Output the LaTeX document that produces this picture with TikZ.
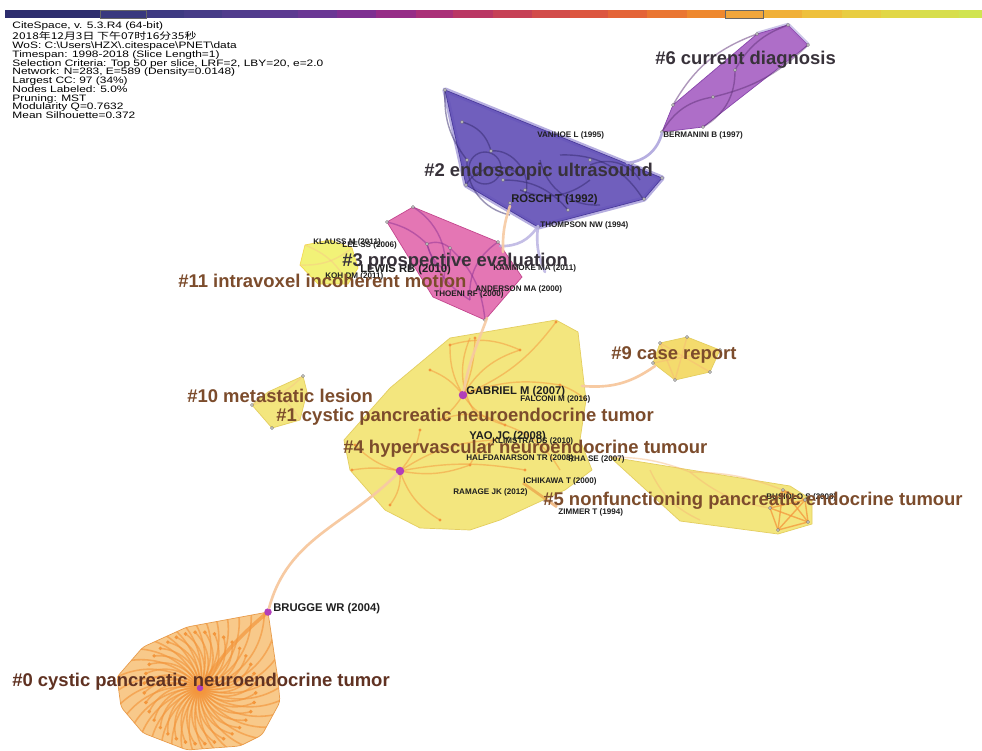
\documentclass[tikz,border=0pt]{standalone}
\usepackage{fontspec}
\setmainfont{Liberation Sans}
\newfontfamily\cjk{Noto Sans CJK SC}
\usetikzlibrary{positioning,calc}
\definecolor{clusterindigo}{RGB}{100,82,184}
\definecolor{indigodraw}{RGB}{74,58,156}
\definecolor{clusterviolet}{RGB}{168,98,196}
\definecolor{violetdraw}{RGB}{136,70,172}
\definecolor{clusterpink}{RGB}{226,104,172}
\definecolor{pinkdraw}{RGB}{196,70,142}
\definecolor{clusteryellow}{RGB}{242,226,104}
\definecolor{yellowdraw}{RGB}{228,206,96}
\definecolor{clusterlime}{RGB}{240,240,96}
\definecolor{clusterorange}{RGB}{247,192,118}
\definecolor{orangedraw}{RGB}{232,156,76}
\definecolor{spokeorange}{RGB}{243,150,60}
\definecolor{linkpeach}{RGB}{247,202,162}
\definecolor{linklavender}{RGB}{182,174,224}
\definecolor{hubmagenta}{RGB}{178,62,186}
\definecolor{labelbrown}{RGB}{124,76,44}
\definecolor{labelrust}{RGB}{96,50,34}
\definecolor{labeldark}{RGB}{56,50,58}
\colorlet{citetext}{black!88}
\colorlet{dotdark}{black!55}

\begin{document}
\begin{tikzpicture}[x=0.2mm,y=-0.2mm,every node/.style={inner sep=0pt},
    clulab/.style={anchor=west,font=\fontsize{10.5}{12}\selectfont\bfseries,text=labelbrown},
    darklab/.style={clulab,text=labeldark},
    citelab/.style={anchor=west,font=\fontsize{4.6}{5}\selectfont\bfseries,text=citetext},
    hublab/.style={citelab,font=\fontsize{6.4}{7}\selectfont\bfseries},
    hub/.style={circle,fill=hubmagenta,minimum size=1.7mm},
    link/.style={line width=1.5pt,line cap=round},
    edge/.style={line width=.8pt,opacity=.5},
    spoke/.style={spokeorange,line width=.9pt,opacity=.65}]
    \useasboundingbox (0,0) rectangle (982,751);
    \fill[white] (0,0) rectangle (982,751);
    \foreach \xa/\xb/\cR/\cG/\cB in {5/100/45/45/110,100/146/56/56/126,146/184/62/58/130,184/222/70/60/135,222/260/80/60/140,260/298/92/58/145,298/337/106/55/148,337/376/126/48/145,376/416/150/45/135,416/453/170/48/120,453/493/186/55/100,493/532/198/65/86,532/570/210/76/74,570/608/220/86/64,608/647/228/100/56,647/687/234/118/50,687/725/238/136/46,725/763/240/166/60,763/802/240/176/56,802/842/238/192/60,842/881/232/205/66,881/920/225/215/70,920/959/215/222/76,959/982/208/228/80}{\definecolor{barcol}{RGB}{\cR,\cG,\cB}\fill[barcol] (\xa,10) rectangle (\xb,18);}
    \draw[black!60,line width=.5pt] (100,10) rectangle (146,18);
    \draw[black!60,line width=.5pt] (725,10) rectangle (763,18);
    \node[anchor=north west,align=left,font=\fontsize{5.3}{5}\selectfont,text=black,xscale=1.28,transform shape] (info) at (12,21) {CiteSpace, v. 5.3.R4 (64-bit)\\{\cjk 2018年12月3日 下午07时16分35秒}\\WoS: C:\textbackslash Users\textbackslash HZX\textbackslash .citespace\textbackslash PNET\textbackslash data\\Timespan: 1998-2018 (Slice Length=1)\\Selection Criteria: Top 50 per slice, LRF=2, LBY=20, e=2.0\\Network: N=283, E=589 (Density=0.0148)\\Largest CC: 97 (34\%)\\Nodes Labeled: 5.0\%\\Pruning: MST\\Modularity Q=0.7632\\Mean Silhouette=0.372};
    \coordinate (gab) at (463,395); \coordinate (hubfour) at (400,471); \coordinate (bru) at (268,612); \coordinate (hubzero) at (200,688);
    \draw[linklavender,line width=3pt,line join=round] (445,90)--(662,178)--(644,199)--(538,227)--(466,185)--cycle;
    \filldraw[fill=clusterindigo,draw=indigodraw,fill opacity=.92,line join=round] (445,90)--(662,178)--(644,199)--(538,227)--(466,185)--cycle;
    \draw[linklavender!70,line width=2.5pt,line join=round] (757,34)--(788,25)--(808,45);
    \filldraw[fill=clusterviolet,draw=violetdraw,fill opacity=.92,line join=round] (757,34)--(788,25)--(808,45)--(703,127)--(662,132)--(673,105)--cycle;
    \filldraw[fill=clusterlime,draw=clusterlime!80!orange,fill opacity=.85,line join=round] (305,245)--(330,240)--(352,248)--(358,268)--(348,284)--(318,284)--(300,265)--cycle;
    \filldraw[fill=clusterpink,draw=pinkdraw,fill opacity=.9,line join=round] (387,222)--(413,207)--(498,242)--(522,277)--(485,320)--(433,297)--cycle;
    \filldraw[fill=clusteryellow,draw=yellowdraw,fill opacity=.85,line join=round] (450,338)--(556,320)--(578,332)--(586,400)--(580,440)--(592,470)--(565,490)--(500,520)--(470,530)--(420,528)--(385,510)--(350,470)--(344,440)--(390,388)--cycle;
    \filldraw[fill=clusteryellow,draw=yellowdraw,fill opacity=.85,line join=round] (610,457)--(790,486)--(812,500)--(812,524)--(778,534)--(680,521)--cycle;
    \filldraw[fill=clusteryellow!90!orange,draw=yellowdraw,fill opacity=.9,line join=round] (660,343)--(687,337)--(720,350)--(710,372)--(675,380)--(653,363)--cycle;
    \filldraw[fill=clusteryellow,draw=yellowdraw,fill opacity=.85,line join=round] (303,376)--(307,392)--(300,420)--(272,428)--(252,405)--(268,392)--cycle;
    \filldraw[fill=clusterorange,draw=orangedraw,fill opacity=.85,rounded corners=2pt] (268,612)--(278,680)--(280,702)--(262,735)--(240,746)--(187,750)--(143,733)--(121,707)--(117,677)--(143,647)--(187,627)--cycle;
    \begin{scope}
      \clip (268,612)--(278,680)--(280,702)--(262,735)--(240,746)--(187,750)--(143,733)--(121,707)--(117,677)--(143,647)--(187,627)--cycle;
      \foreach \a in {0,10,...,350}{\draw[spoke] (hubzero) to[bend right=40] ++(\a:100); \draw[spoke] (hubzero) to[bend right=40] ++(\a+5:56); \fill[spokeorange] (hubzero) ++(\a+5:56) circle (1.1pt);}
      \draw[spokeorange,line width=2pt,opacity=.7] (hubzero) to[bend left=8] (bru);
    \end{scope}
    \foreach \xa/\ya/\xb/\yb/\bend in {462/122/491/151/30,467/160/510/215/-40,466/185/520/175/50,491/151/525/195/60,540/160/600/205/-40,560/155/643/199/30,520/190/590/180/-30,590/165/640/180/40,503/180/568/210/25,445/90/467/160/-20}{\draw[edge,indigodraw!70!black] (\xa,\ya) to[bend left=\bend] (\xb,\yb);}
    \draw[edge,indigodraw!70!black] (485,168) circle (16);
    \foreach \xa/\ya/\xb/\yb/\bend in {673/105/757/34/20,703/127/735/70/-30,735/70/788/25/20,662/132/713/97/25,713/97/808/45/-15}{\draw[edge,violetdraw!70!black] (\xa,\ya) to[bend left=\bend] (\xb,\yb);}
    \foreach \xa/\ya/\xb/\yb/\bend in {427/244/450/248/30,427/244/470/300/-20,450/248/485/320/20,413/207/440/290/40,498/242/470/300/-30,445/270/427/244/20,445/270/450/248/-20,387/222/427/244/15}{\draw[edge,hubmagenta!80!black] (\xa,\ya) to[bend left=\bend] (\xb,\yb);}
    \foreach \xb/\yb/\bend in {450/345/15,475/338/-10,520/350/20,556/322/-15,440/420/10,505/425/-20,560/385/15,430/370/-15}{\draw[edge,spokeorange] (gab) to[bend left=\bend] (\xb,\yb); \fill[spokeorange] (\xb,\yb) circle (.9pt);}
    \foreach \xb/\yb/\bend in {355/445/15,352/470/-10,390/505/20,470/465/-15,525/470/10,440/520/-20,495/440/15,420/430/-15}{\draw[edge,spokeorange] (hubfour) to[bend left=\bend] (\xb,\yb); \fill[spokeorange] (\xb,\yb) circle (.9pt);}
    \foreach \xa/\ya/\xb/\yb/\bend in {450/345/520/350/20,470/338/480/420/-30,505/425/560/470/20,440/420/505/425/25,495/440/470/465/-20,560/385/586/400/10}{\draw[edge,spokeorange] (\xa,\ya) to[bend left=\bend] (\xb,\yb);}
    \draw[spokeorange!80!brown,line width=1.6pt,opacity=.6] (523,483)--(557,507);
    \foreach \xa/\ya/\xb/\yb in {783/490/805/500,805/500/808/522,808/522/778/530,778/530/770/508,770/508/783/490,783/490/808/522,805/500/778/530,808/522/770/508,778/530/783/490,770/508/805/500}{\draw[edge,spokeorange,opacity=.75] (\xa,\ya)--(\xb,\yb);}
    \foreach \xa/\ya/\xb/\yb/\bend in {610/457/690/472/10,690/472/783/490/10,650/470/700/520/-20,690/472/770/508/-15}{\draw[edge,spokeorange!70,opacity=.45] (\xa,\ya) to[bend left=\bend] (\xb,\yb);}
    \foreach \xa/\ya/\xb/\yb in {660/343/710/372,687/337/675/380,653/363/720/350,660/343/675/380}{\draw[edge,spokeorange!70,opacity=.45] (\xa,\ya)--(\xb,\yb);}
    \foreach \xa/\ya/\xb/\yb/\bend in {268/392/300/420/20,252/405/303/376/-15,305/245/348/284/20,300/265/352/248/-20}{\draw[edge,spokeorange!60,opacity=.4] (\xa,\ya) to[bend left=\bend] (\xb,\yb);}
    \foreach \x/\y in {445/90,462/122,491/151,467/160,466/185,510/203,525/190,590/160,632/163,662/178,644/199,568/210,538/227,503/180,757/34,788/25,808/45,735/70,713/97,703/127,662/132,673/105,413/207,387/222,427/244,450/248,498/242,485/320,445/270,660/343,687/337,720/350,710/372,675/380,653/363,783/490,805/500,808/522,778/530,770/508,303/376,252/405,272/428}{\draw[dotdark,fill=white,line width=.3pt] (\x,\y) circle (.8pt);}
    \node[hub] (gabriel) at (gab) {};
    \node[hub] (hub4) at (hubfour) {};
    \node[hub,minimum size=1.5mm] (brugge) at (bru) {};
    \node[hub,minimum size=1.3mm] (hub0) at (hubzero) {};
    \coordinate (g6tip) at (662,133); \coordinate (g2right) at (627,163);
    \coordinate (g2foot) at (538,226); \coordinate (g3side) at (500,246); \coordinate (g3low) at (545,272);
    \coordinate (roschpt) at (510,206); \coordinate (g3mid) at (503,252); \coordinate (g3tip) at (487,318);
    \coordinate (g9left) at (655,366); \coordinate (g1right) at (582,386);
    \draw[link,linklavender] (g6tip) to[bend left=35] (g2right);
    \draw[link,linklavender,opacity=.8] (g2foot) to[bend left=30] (g3side);
    \draw[link,linklavender,opacity=.8] (g2foot) to[bend right=15] (g3low);
    \draw[link,linkpeach,opacity=.9] (roschpt) to[bend right=10] (g3mid);
    \draw[link,linkpeach,opacity=.9] (g3tip) to[out=250,in=80] (gabriel);
    \draw[link,linkpeach] (g9left) to[bend left=20] (g1right);
    \draw[link,linkpeach] (hub4) to[out=225,in=75] (brugge);
    \foreach \n/\x/\y/\t in {vanhoe/537/135/VANHOE L (1995),bermanini/663/135/BERMANINI B (1997),thompson/540/225/THOMPSON NW (1994),klauss/313/242/KLAUSS M (2011),leess/342/245/LEE SS (2006),kohdm/325/276/KOH DM (2011),kammoke/493/268/KAMMOKE MA (2011),anderson/475/289/ANDERSON MA (2000),thoeni/434/294/THOENI RF (2000),falconi/520/399/FALCONI M (2016),klimstra/492/441/KLIMSTRA DS (2010),halfdan/466/458/HALFDANARSON TR (2008),rha/568/459/RHA SE (2007),ichikawa/523/481/ICHIKAWA T (2000),ramage/453/492/RAMAGE JK (2012),zimmer/558/512/ZIMMER T (1994),busiolo/766/497/BUSIOLO S (2008)}{\node[citelab] (\n) at (\x,\y) {\t};}
    \foreach \n/\x/\y/\t in {rosch/511/200/ROSCH T (1992),lewis/360/270/LEWIS RB (2010),gablab/466/392/GABRIEL M (2007),yao/469/437/YAO JC (2008),brulab/273/609/BRUGGE WR (2004)}{\node[hublab] (\n) at (\x,\y) {\t};}
    \foreach \n/\x/\y/\t in {lab2/424/172/\#2 endoscopic ultrasound,lab3/342/262/\#3 prospective evaluation,lab6/655/60/\#6 current diagnosis}{\node[darklab] (\n) at (\x,\y) {\t};}
    \foreach \n/\x/\y/\t in {lab11/178/281/\#11 intravoxel incoherent motion,lab9/611/355/\#9 case report,lab10/187/396/\#10 metastatic lesion,lab1/276/417/\#1 cystic pancreatic neuroendocrine tumor,lab4/343/449/\#4 hypervascular neuroendocrine tumour,lab5/543/501/\#5 nonfunctioning pancreatic endocrine tumour}{\node[clulab] (\n) at (\x,\y) {\t};}
    \node[clulab,text=labelrust] (lab0) at (12,682) {\#0 cystic pancreatic neuroendocrine tumor};
  \end{tikzpicture}
\end{document}
